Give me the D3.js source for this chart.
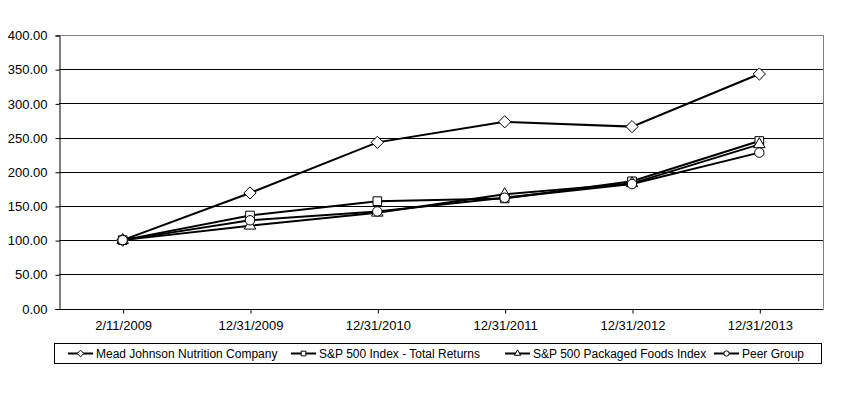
<!DOCTYPE html>
<html>
<head>
<meta charset="utf-8">
<script src="https://cdn.jsdelivr.net/npm/d3@7"></script>
<style>
	body { margin: 0; background: #fff; }
	svg { font-family: "Liberation Sans", Arial, sans-serif; }
</style>
</head>
<body>
<svg id="chart" width="858" height="396"></svg>
<script>
const DATES = ['2/11/2009', '12/31/2009', '12/31/2010', '12/31/2011', '12/31/2012', '12/31/2013'];
const MEAD_JOHNSON = [100, 169, 243, 273, 266, 343];
const SP500_TOTAL = [100, 136, 157, 161, 186, 245];
const SP500_FOODS = [100, 121, 140, 167, 183, 240];
const PEER_GROUP = [100, 129, 142, 162, 182, 228];
const Y_TICKS = [0, 50, 100, 150, 200, 250, 300, 350, 400];

const SERIES = [
	{ name: 'Mead Johnson Nutrition Company', values: MEAD_JOHNSON, symbol: d3.symbolDiamond2 },
	{ name: 'S&P 500 Index - Total Returns', values: SP500_TOTAL, symbol: d3.symbolSquare2 },
	{ name: 'S&P 500 Packaged Foods Index', values: SP500_FOODS, symbol: d3.symbolTriangle2 },
	{ name: 'Peer Group', values: PEER_GROUP, symbol: d3.symbolCircle },
];

const plot = { left: 59, right: 823, top: 35, bottom: 308.5 };

function draw() {
	const svg = d3.select('#chart');

	const x = d3.scalePoint()
		.domain(DATES)
		.range([plot.left, plot.right])
		.padding(0.5);
	const y = d3.scaleLinear()
		.domain([0, 400])
		.range([plot.bottom, plot.top]);

	// gridlines
	svg.append('g')
		.selectAll('line')
		.data(Y_TICKS.filter(d => d > 0 && d < 400))
		.enter()
		.append('line')
			.attr('x1', plot.left)
			.attr('x2', plot.right)
			.attr('y1', d => Math.round(y(d)) + 0.5)
			.attr('y2', d => Math.round(y(d)) + 0.5)
			.attr('stroke', '#000')
			.attr('stroke-width', 1);

	// gray border top/right
	svg.append('path')
		.attr('d', `M${plot.left},${plot.top + 0.5}H${plot.right + 0.5}V${plot.bottom}`)
		.attr('fill', 'none')
		.attr('stroke', '#808080');

	const yAxis = d3.axisLeft(y)
		.tickValues(Y_TICKS)
		.tickFormat(d3.format('.2f'))
		.tickSize(4)
		.tickPadding(8);
	svg.append('g')
		.attr('transform', `translate(${plot.left + 0.5},0.5)`)
		.call(yAxis)
		.attr('font-size', 13)
		.attr('font-family', null)
		.call(g => g.select('.domain').attr('stroke', '#000'))
		.call(g => g.selectAll('.tick line').attr('stroke', '#000'))
		.call(g => g.selectAll('.tick text').attr('fill', '#000'));

	const xAxis = d3.axisBottom(x)
		.tickSizeInner(4)
		.tickSizeOuter(0)
		.tickPadding(7);
	svg.append('g')
		.attr('transform', `translate(0.5,${Math.round(plot.bottom) + 0.5})`)
		.call(xAxis)
		.attr('font-size', 13)
		.attr('font-family', null)
		.call(g => g.select('.domain').attr('stroke', '#000').attr('d', `M${plot.left},0H${plot.right}`))
		.call(g => g.selectAll('.tick line').attr('stroke', '#000'))
		.call(g => g.selectAll('.tick text').attr('fill', '#000'));

	const line = d3.line()
		.x((d, i) => x(DATES[i]))
		.y(d => y(d));

	const series = svg.append('g');
	SERIES.forEach(s => {
		series.append('path')
			.datum(s.values)
			.attr('d', line)
			.attr('fill', 'none')
			.attr('stroke', '#000')
			.attr('stroke-width', 2);
	});
	SERIES.forEach(s => {
		series.append('g')
			.selectAll('path')
			.data(s.values)
			.enter()
			.append('path')
				.attr('transform', (d, i) => `translate(${x(DATES[i])},${y(d)})`)
				.attr('d', d3.symbol().type(s.symbol).size(s.symbol === d3.symbolCircle ? 70 : 95))
				.attr('fill', '#fff')
				.attr('stroke', '#000')
				.attr('stroke-width', 1);
	});

	// legend
	const legend = svg.append('g');
	legend.append('rect')
		.attr('x', 54.5)
		.attr('y', 343.5)
		.attr('width', 767)
		.attr('height', 20)
		.attr('fill', '#fff')
		.attr('stroke', '#000');
	const legendTextX = [96, 319, 533, 742];
	SERIES.forEach((s, i) => {
		const g = legend.append('g').attr('transform', `translate(${legendTextX[i]},353.5)`);
		g.append('line')
			.attr('x1', -28).attr('x2', -3)
			.attr('stroke', '#000').attr('stroke-width', 2);
		g.append('path')
			.attr('transform', 'translate(-15.5,0)')
			.attr('d', d3.symbol().type(s.symbol).size(s.symbol === d3.symbolCircle ? 22 : 28))
			.attr('fill', '#fff')
			.attr('stroke', '#000');
		g.append('text')
			.attr('x', 0)
			.attr('y', 4.5)
			.attr('font-size', 12)
			.text(s.name);
	});
}

draw();
</script>
</body>
</html>
